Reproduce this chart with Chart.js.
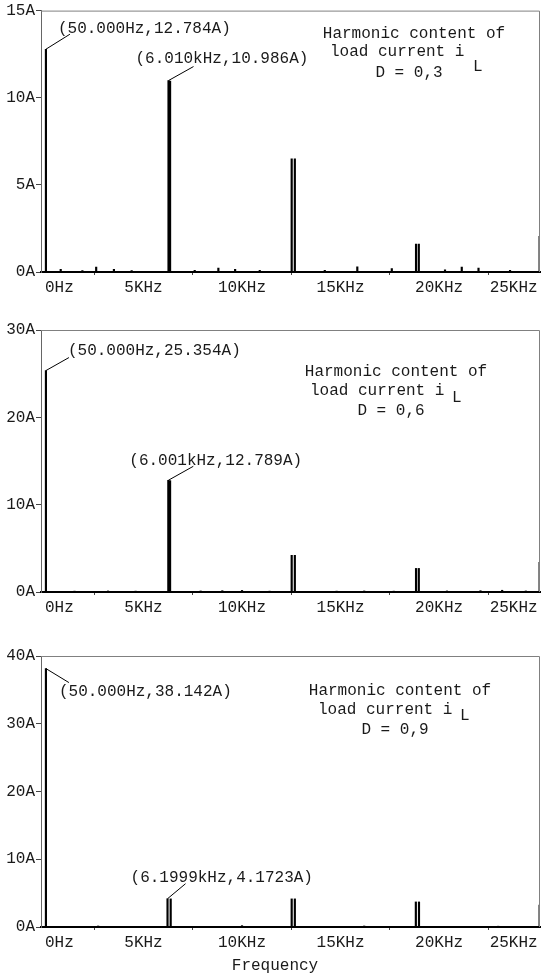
<!DOCTYPE html>
<html>
<head>
<meta charset="utf-8">
<script src="https://cdn.jsdelivr.net/npm/chart.js@4.4.0/dist/chart.umd.min.js"></script>
<style>
  html, body { margin: 0; padding: 0; background: #fff; }
  body { width: 542px; height: 974px; position: relative; overflow: hidden; }
  .panel { position: absolute; left: 0; width: 542px; }
</style>
</head>
<body>
<div class="panel" style="top:0;height:300px"><canvas id="chart-d03"></canvas></div>
<div class="panel" style="top:300px;height:320px"><canvas id="chart-d06"></canvas></div>
<div class="panel" style="top:620px;height:354px"><canvas id="chart-d09"></canvas></div>

<script>
// frequency axis (kHz)
const freqTicks = [0, 5, 10, 15, 20, 25];
const freqTickLabels = ['0Hz', '5KHz', '10KHz', '15KHz', '20KHz', '25KHz'];

// D = 0,3
const freqD03 = [0.05, 0.8, 1.9, 2.6, 3.5, 4.4, 6.27, 6.35, 7.6, 8.8, 9.65, 10.9, 12.52, 12.68, 14.2, 15.85, 17.6, 18.83, 18.97, 20.3, 21.15, 22.0, 23.6, 25.1];
const ampD03 = [12.784, 0.15, 0.08, 0.28, 0.15, 0.08, 10.986, 10.95, 0.1, 0.22, 0.15, 0.1, 6.5, 6.5, 0.1, 0.3, 0.2, 1.6, 1.6, 0.12, 0.28, 0.22, 0.1, 2.05];

// D = 0,6
const freqD06 = [0.05, 1.5, 3.2, 4.6, 6.26, 6.35, 7.9, 9.0, 10.0, 11.4, 12.52, 12.68, 14.8, 16.2, 17.7, 18.83, 18.97, 20.4, 22.1, 23.2, 24.4, 25.1];
const ampD06 = [25.354, 0.1, 0.12, 0.1, 12.789, 12.75, 0.12, 0.15, 0.18, 0.1, 4.2, 4.2, 0.1, 0.12, 0.1, 2.7, 2.7, 0.12, 0.15, 0.2, 0.12, 3.4];

// D = 0,9
const freqD09 = [0.05, 2.7, 3.6, 6.22, 6.38, 7.0, 8.6, 10.0, 12.52, 12.68, 14.5, 16.2, 18.82, 18.98, 21.0, 23.0, 25.1];
const ampD09 = [38.142, 0.15, 0.1, 4.1723, 4.15, 0.1, 0.1, 0.2, 4.15, 4.15, 0.1, 0.15, 3.7, 3.7, 0.1, 0.12, 3.25];

// cursor labels
const peakLabelsD03 = ['(50.000Hz,12.784A)', '(6.010kHz,10.986A)'];
const peakLabelsD06 = ['(50.000Hz,25.354A)', '(6.001kHz,12.789A)'];
const peakLabelsD09 = ['(50.000Hz,38.142A)', '(6.1999kHz,4.1723A)'];

const X_MIN = -0.2;
const X_MAX = 25.12;
const FONT = '16px "Liberation Mono", "Courier New", monospace';
const TEXT = '#1a1a1a';

const framePlugin = {
    id: 'frame',
    afterDraw(chart) {
        const {ctx, chartArea: a} = chart;
        ctx.save();
        ctx.strokeStyle = '#808080';
        ctx.lineWidth = 1;
        ctx.beginPath();
        ctx.moveTo(a.left, a.top + 0.5);
        ctx.lineTo(a.right - 0.5, a.top + 0.5);
        ctx.lineTo(a.right - 0.5, a.bottom);
        ctx.stroke();
        ctx.restore();
    }
};

const notesPlugin = {
    id: 'peakNotes',
    afterDatasetsDraw(chart, args, opts) {
        const {ctx, chartArea: a, scales: {x, y}} = chart;
        ctx.save();
        ctx.font = FONT;
        ctx.fillStyle = TEXT;
        ctx.strokeStyle = '#000';
        ctx.lineWidth = 1;
        ctx.textBaseline = 'middle';
        opts.notes.forEach((n) => {
            const px = x.getPixelForValue(n.f);
            const py = y.getPixelForValue(n.a);
            ctx.beginPath();
            ctx.moveTo(px, py);
            ctx.lineTo(px + n.dx, py + n.dy);
            ctx.stroke();
            ctx.textAlign = 'left';
            ctx.fillText(n.text, px + n.tx, py + n.ty);
        });
        opts.caption.forEach((c) => {
            ctx.textAlign = c.align || 'left';
            ctx.fillText(c.text, c.x, a.top + c.y);
        });
        ctx.restore();
    }
};

function makePanel(id, freq, amp, yMax, yStep, padTop, xHeight, notes, caption) {
    return new Chart(document.getElementById(id), {
        type: 'bar',
        data: {
            datasets: [{
                data: freq.map((f, i) => ({x: f, y: amp[i]})),
                backgroundColor: '#000',
                borderWidth: 0,
                barThickness: 1.5,
                grouped: false,
            }],
        },
        options: {
            responsive: true,
            maintainAspectRatio: false,
            animation: false,
            layout: {padding: {top: padTop, right: 2, left: 0, bottom: 0}},
            plugins: {
                legend: {display: false},
                tooltip: {enabled: false},
                peakNotes: {notes: notes, caption: caption},
            },
            scales: {
                x: {
                    type: 'linear',
                    min: X_MIN,
                    max: X_MAX,
                    offset: false,
                    afterBuildTicks: (s) => { s.ticks = freqTicks.map((v) => ({value: v})); },
                    afterFit: (s) => { s.height = xHeight; },
                    grid: {drawOnChartArea: false, tickLength: 3, color: '#444'},
                    border: {color: '#000', width: 2},
                    ticks: {
                        autoSkip: false,
                        maxRotation: 0,
                        align: 'inner',
                        padding: 3,
                        color: TEXT,
                        font: {family: '"Liberation Mono", "Courier New", monospace', size: 16},
                        callback: (v, i) => freqTickLabels[i],
                    },
                },
                y: {
                    min: 0,
                    max: yMax,
                    afterFit: (s) => { s.width = 41; },
                    grid: {drawOnChartArea: false, tickLength: 5, color: '#444'},
                    border: {color: '#666', width: 1},
                    ticks: {
                        stepSize: yStep,
                        padding: 1,
                        color: TEXT,
                        font: {family: '"Liberation Mono", "Courier New", monospace', size: 16},
                        callback: (v) => v + 'A',
                    },
                },
            },
        },
        plugins: [framePlugin, notesPlugin],
    });
}

makePanel('chart-d03', freqD03, ampD03, 15, 5, 9, 28,
    [
        {f: freqD03[0], a: ampD03[0], text: peakLabelsD03[0], dx: 24, dy: -15, tx: 12, ty: -20},
        {f: freqD03[6], a: ampD03[6], text: peakLabelsD03[1], dx: 25, dy: -14, tx: -33, ty: -22},
    ],
    [
        {text: 'Harmonic content of', x: 414, y: 23, align: 'center'},
        {text: 'load current i', x: 330, y: 41},
        {text: 'L', x: 473, y: 56},
        {text: 'D = 0,3', x: 409, y: 62, align: 'center'},
    ]);

makePanel('chart-d06', freqD06, ampD06, 30, 10, 30, 28,
    [
        {f: freqD06[0], a: ampD06[0], text: peakLabelsD06[0], dx: 23, dy: -13, tx: 22, ty: -20},
        {f: freqD06[4], a: ampD06[4], text: peakLabelsD06[1], dx: 25, dy: -14, tx: -39, ty: -20},
    ],
    [
        {text: 'Harmonic content of', x: 396, y: 42, align: 'center'},
        {text: 'load current i', x: 310, y: 61},
        {text: 'L', x: 452, y: 68},
        {text: 'D = 0,6', x: 391, y: 81, align: 'center'},
    ]);

makePanel('chart-d09', freqD09, ampD09, 40, 10, 36, 47,
    [
        {f: freqD09[0], a: ampD09[0], text: peakLabelsD09[0], dx: 23, dy: 14, tx: 13, ty: 23},
        {f: freqD09[3], a: ampD09[3], text: peakLabelsD09[1], dx: 18, dy: -15, tx: -37, ty: -21},
    ],
    [
        {text: 'Harmonic content of', x: 400, y: 35, align: 'center'},
        {text: 'load current i', x: 318, y: 54},
        {text: 'L', x: 460, y: 60},
        {text: 'D = 0,9', x: 395, y: 74, align: 'center'},
        {text: 'Frequency', x: 275, y: 310, align: 'center'},
    ]);
</script>
</body>
</html>
